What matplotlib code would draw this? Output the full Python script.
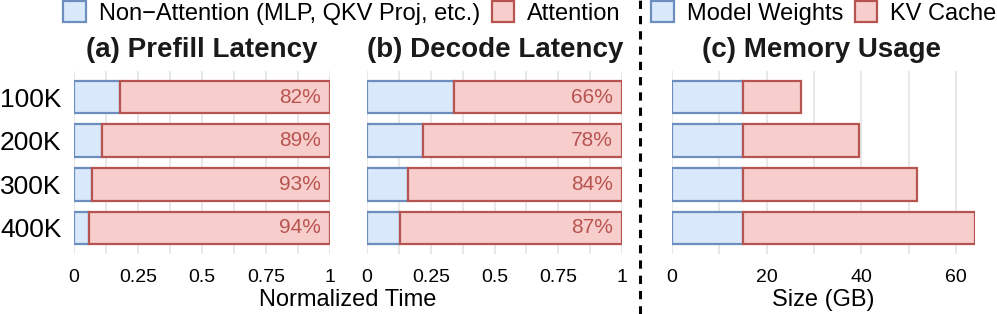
import matplotlib
matplotlib.use("Agg")
import matplotlib.pyplot as plt
from matplotlib.patches import Patch
from matplotlib.lines import Line2D

plt.rcParams['font.family'] = ['Liberation Sans', 'DejaVu Sans']

contexts = ["100K", "200K", "300K", "400K"]
prefill_attn_pct = [82, 89, 93, 94]
decode_attn_pct = [66, 78, 84, 87]
weights_gb = [15, 15, 15, 15]
kv_cache_gb = [12.3, 24.5, 36.8, 49.0]

BLUE_F, BLUE_E = "#dae8fc", "#6c8ebf"
RED_F, RED_E = "#f8cecc", "#b85450"

W, H = 997, 314
fig = plt.figure(figsize=(W / 100, H / 100), dpi=100)

def ax_at(x0, x1):
    return fig.add_axes([x0 / W, 1 - 254 / H, (x1 - x0) / W, 183 / H])

ax_a = ax_at(74, 330)
ax_b = ax_at(367, 622)
ax_c = ax_at(672, 975)

ypos = list(range(len(contexts)))
bh = 0.75
lw = 1.6

def style(ax, xlim, major, minor):
    ax.set_xlim(*xlim)
    ax.set_ylim(3.6, -0.6)
    for s in ax.spines.values():
        s.set_visible(False)
    ax.set_xticks(major)
    ax.set_xticks(minor, minor=True)
    ax.grid(axis='x', which='both', color='#e6e6e6', lw=1.3, zorder=0)
    ax.tick_params(axis='x', which='both', length=0, labelsize=14, pad=11)
    ax.tick_params(axis='y', length=0, labelsize=19, pad=9)
    ax.set_axisbelow(True)

for ax, pct in [(ax_a, prefill_attn_pct), (ax_b, decode_attn_pct)]:
    non = [1 - p / 100 for p in pct]
    att = [p / 100 for p in pct]
    ax.barh(ypos, non, height=bh, color=BLUE_F, edgecolor=BLUE_E, lw=lw, zorder=3)
    ax.barh(ypos, att, left=non, height=bh, color=RED_F, edgecolor=RED_E, lw=lw, zorder=3)
    for y, p in zip(ypos, pct):
        ax.text(0.965, y, f"{p}%", ha='right', va='center', color=RED_E, fontsize=15, zorder=4)
    style(ax, (0, 1.0), [0, 0.25, 0.5, 0.75, 1], [0.125 * i for i in range(9)])
    ax.set_xticklabels(["0", "0.25", "0.5", "0.75", "1"])

ax_a.set_yticks(ypos)
ax_a.set_yticklabels(contexts)
ax_b.set_yticks([])
ax_c.set_yticks([])

ax_c.barh(ypos, weights_gb, height=bh, color=BLUE_F, edgecolor=BLUE_E, lw=lw, zorder=3)
ax_c.barh(ypos, kv_cache_gb, left=weights_gb, height=bh, color=RED_F, edgecolor=RED_E, lw=lw, zorder=3)
style(ax_c, (0, 64), [0, 20, 40, 60], list(range(0, 61, 10)))

title_kw = dict(ha='center', va='center', fontsize=20, fontweight='bold', color='#1a1a1a')
fig.text(202 / W, 1 - 50 / H, "(a) Prefill Latency", **title_kw)
fig.text(495 / W, 1 - 50 / H, "(b) Decode Latency", **title_kw)
fig.text(822 / W, 1 - 50 / H, "(c) Memory Usage", **title_kw)

fig.text(348 / W, 1 - 300 / H, "Normalized Time", ha='center', va='center', fontsize=17)
fig.text(823 / W, 1 - 300 / H, "Size (GB)", ha='center', va='center', fontsize=17)

leg_kw = dict(loc='center', ncol=2, frameon=False, fontsize=17, handlelength=0.95,
              handleheight=1.0, handletextpad=0.55, columnspacing=0.5,
              borderpad=0, borderaxespad=0)
h1 = [Patch(facecolor=BLUE_F, edgecolor=BLUE_E, lw=lw, label="Non\u2212Attention (MLP, QKV Proj, etc.)"),
      Patch(facecolor=RED_F, edgecolor=RED_E, lw=lw, label="Attention")]
fig.legend(handles=h1, bbox_to_anchor=(342 / W, 1 - 13 / H), **leg_kw)
h2 = [Patch(facecolor=BLUE_F, edgecolor=BLUE_E, lw=lw, label="Model Weights"),
      Patch(facecolor=RED_F, edgecolor=RED_E, lw=lw, label="KV Cache")]
fig.legend(handles=h2, bbox_to_anchor=(824 / W, 1 - 13 / H), **leg_kw)

fig.add_artist(Line2D([640 / W, 640 / W], [0, 1], transform=fig.transFigure, color='black',
                      lw=2.2, ls=(0, (2.7, 2.3))))

fig.savefig("out.png", dpi=100)
